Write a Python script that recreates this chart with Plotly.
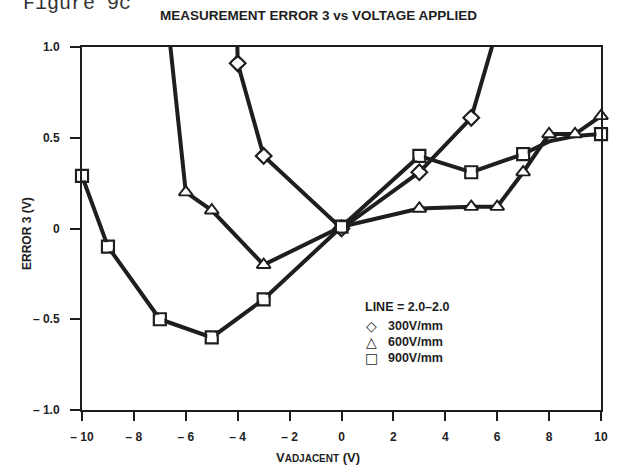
import plotly.graph_objects as go

# Error 3 (V) versus adjacent voltage (V) for three field strengths
v300_x = [-4.1, -4, -3, 0, 3, 5, 6]
v300_y = [1.6, 0.91, 0.40, 0.0, 0.31, 0.61, 1.1]

v600_x = [-7, -6, -5, -3, 0, 3, 5, 6, 7, 8, 9, 10]
v600_y = [1.55, 0.20, 0.10, -0.20, 0.01, 0.11, 0.12, 0.12, 0.31, 0.52, 0.52, 0.62]

v900_x = [-10, -9, -7, -5, -3, 0, 3, 5, 7, 8, 9, 10]
v900_y = [0.29, -0.10, -0.50, -0.60, -0.39, 0.01, 0.40, 0.31, 0.41, 0.48, 0.51, 0.52]
v900_marked = [1, 1, 1, 1, 1, 1, 1, 1, 1, 0, 0, 1]

x_ticks = [-10, -8, -6, -4, -2, 0, 2, 4, 6, 8, 10]
x_ticktext = ["\u2013 10", "\u2013 8", "\u2013 6", "\u2013 4", "\u2013 2", "0", "2", "4", "6", "8", "10"]
y_ticks = [-1.0, -0.5, 0, 0.5, 1.0]
y_ticktext = ["\u2013 1.0", "\u2013 0.5", "0", "0.5", "1.0"]

legend_title = "LINE = 2.0\u20132.0"
legend_labels = ["300V/mm", "600V/mm", "900V/mm"]
legend_glyphs = ["\u25c7", "\u25b3", "\u25a1"]

INK = "#1e1e1e"
SANS = "Liberation Sans"

series = [
    (v300_x, v300_y, None, "diamond-open", 12),
    (v600_x, v600_y, None, "triangle-up-open", 12),
    (v900_x, v900_y, v900_marked, "square-open", 12),
]

fig = go.Figure()

# connecting lines (clipped to the plot box)
for xs, ys, _, _, _ in series:
    fig.add_trace(go.Scatter(
        x=xs, y=ys, mode="lines",
        line=dict(color=INK, width=4),
        showlegend=False, hoverinfo="skip",
    ))

# open markers on top, only for points inside the axis range
for xs, ys, mask, sym, size in series:
    px, py = [], []
    for i, (a, b) in enumerate(zip(xs, ys)):
        if -1.0 <= b <= 1.0 and (mask is None or mask[i]):
            px.append(a)
            py.append(b)
    fig.add_trace(go.Scatter(
        x=px, y=py, mode="markers",
        marker=dict(symbol=sym, size=size, color=INK,
                    line=dict(color=INK, width=2.2)),
        cliponaxis=False, showlegend=False,
    ))
    # white fill behind the open symbol outline
    fig.add_trace(go.Scatter(
        x=px, y=py, mode="markers",
        marker=dict(symbol=sym.replace("-open", ""), size=size - 3, color="white",
                    line=dict(width=0)),
        cliponaxis=False, showlegend=False, hoverinfo="skip",
    ))

tick_font = dict(family=SANS, size=12, color=INK, weight="bold")

fig.update_xaxes(
    range=[-10, 10], tickmode="array", tickvals=x_ticks, ticktext=x_ticktext,
    showline=True, linewidth=2, linecolor=INK, mirror=True,
    ticks="outside", ticklen=9, tickwidth=2, tickcolor=INK,
    showgrid=False, zeroline=False, tickfont=tick_font, ticklabelstandoff=6,
)
fig.update_yaxes(
    range=[-1, 1], tickmode="array", tickvals=y_ticks, ticktext=y_ticktext,
    showline=True, linewidth=2, linecolor=INK, mirror=True,
    ticks="outside", ticklen=10, tickwidth=2, tickcolor=INK,
    showgrid=False, zeroline=False, tickfont=tick_font, ticklabelstandoff=8,
)

annotations = [
    dict(text="Figure 9c", x=-0.118, y=1.082, xref="paper", yref="paper",
         xanchor="left", yanchor="bottom", showarrow=False,
         font=dict(family="Liberation Mono", size=20, color="#333333")),
    dict(text="MEASUREMENT ERROR 3 vs VOLTAGE APPLIED", x=0.4566, y=1.088,
         xref="paper", yref="paper", xanchor="center", yanchor="middle",
         showarrow=False, font=dict(family=SANS, size=13.5, color=INK, weight="bold")),
    dict(text="ERROR 3 (V)", x=-0.106, y=0.4876, xref="paper", yref="paper",
         xanchor="center", yanchor="middle", textangle=-90, showarrow=False,
         font=dict(family=SANS, size=12, color=INK, weight="bold")),
    dict(text="V<span style='font-size:10px'>ADJACENT</span> (V)", x=0.4547, y=-0.1295,
         xref="paper", yref="paper", xanchor="center", yanchor="middle",
         showarrow=False, font=dict(family=SANS, size=13, color=INK, weight="bold")),
    dict(text=legend_title, x=0.5414, y=0.2837, xref="paper", yref="paper",
         xanchor="left", yanchor="middle", showarrow=False,
         font=dict(family=SANS, size=12.5, color=INK, weight="bold")),
]
row_y = [0.2314, 0.1873, 0.1433]
for glyph, label, yy in zip(legend_glyphs, legend_labels, row_y):
    annotations.append(dict(text=glyph, x=0.5575, y=yy, xref="paper", yref="paper",
                            xanchor="center", yanchor="middle", showarrow=False,
                            borderpad=0,
                            font=dict(family="DejaVu Sans", size=14, color=INK, weight="bold")))
    annotations.append(dict(text=label, x=0.5877, y=yy, xref="paper", yref="paper",
                            xanchor="left", yanchor="middle", showarrow=False,
                            borderpad=0,
                            font=dict(family=SANS, size=12.5, color=INK, weight="bold")))

fig.update_layout(
    width=621, height=473,
    margin=dict(l=82, r=20, t=47, b=63),
    paper_bgcolor="white", plot_bgcolor="white",
    annotations=annotations,
    showlegend=False,
)

fig.write_html("out.html")
